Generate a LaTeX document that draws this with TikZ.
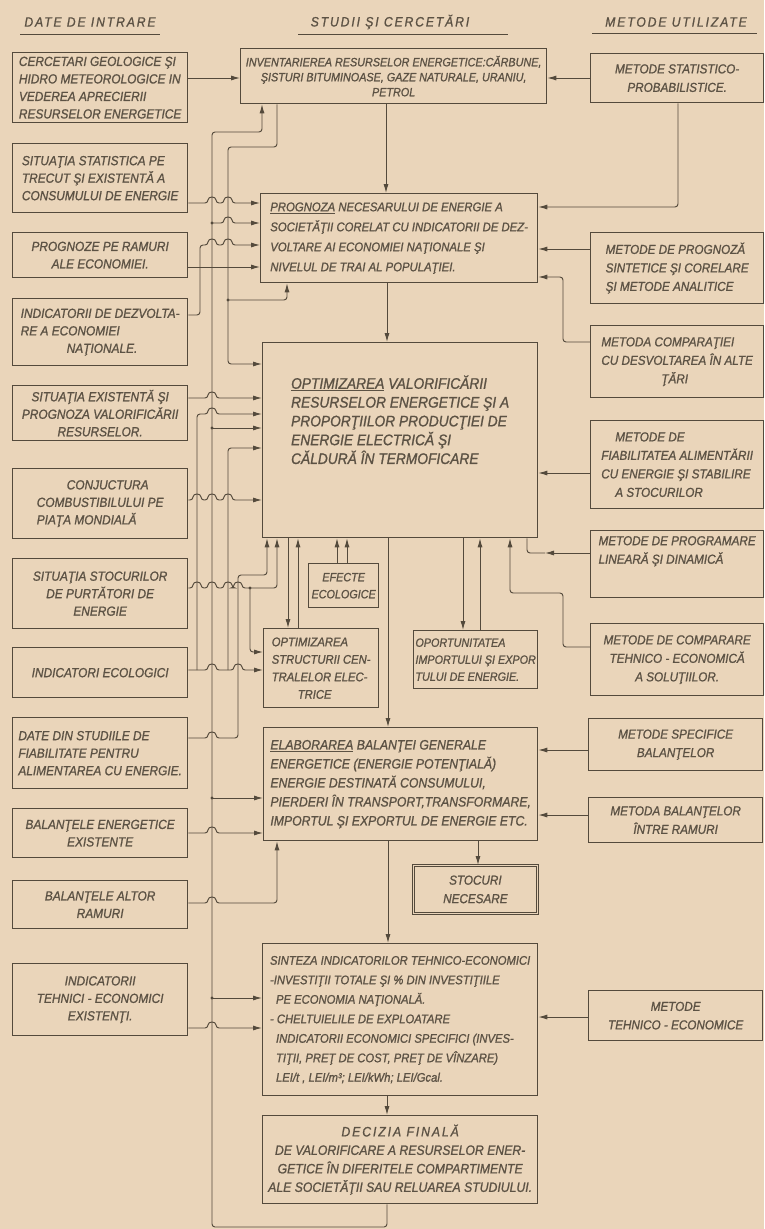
\documentclass[tikz,border=0pt]{standalone}
\usepackage{fontspec}
\setmainfont{Liberation Sans}
\newfontfamily\df[FakeStretch=0.9,FakeBold=1.1]{Liberation Sans}
\newfontfamily\dfh[FakeStretch=0.9,FakeBold=1.1,LetterSpace=14]{Liberation Sans}
\usetikzlibrary{arrows.meta}
\definecolor{paper}{RGB}{234,213,186}
\definecolor{ink}{RGB}{84,74,60}
\definecolor{txt}{RGB}{92,82,68}
\newcommand\hp[2]{-- (#1-4,#2) .. controls (#1-4,#2-7) and (#1+4,#2-7) .. (#1+4,#2)}
\begin{document}
\begin{tikzpicture}[x=1pt,y=-1pt,
  bx/.style={draw=ink,line width=1.3pt,inner xsep=3pt,inner ysep=0pt,text=txt,anchor=north west},
  lf/.style={font=\df\itshape\fontsize{13.2}{17.5}\selectfont},
  cf/.style={font=\df\itshape\fontsize{12.6}{20}\selectfont},
  rf/.style={font=\df\itshape\fontsize{13}{18.5}\selectfont},
  sf/.style={font=\df\itshape\fontsize{12}{17}\selectfont},
  hd/.style={text=txt,font=\dfh\itshape\fontsize{13.5}{15}\selectfont},
  con/.style={draw=ink,line width=0.95pt,rounded corners=3pt},
  arr/.style={-{Latex[length=9pt,width=5pt]}},
  dot/.style={fill=ink}]
\fill[paper] (0,0) rectangle (764,1229);
\useasboundingbox (0,0) rectangle (764,1229);

% headers
\node[hd] (h1) at (90,22) {DATE DE INTRARE};
\node[hd] (h2) at (390,22) {STUDII ŞI CERCETĂRI};
\node[hd] (h3) at (676,22) {METODE UTILIZATE};
\draw[ink,line width=0.9pt] (20,34) -- (160,34);
\draw[ink,line width=0.9pt] (298,34) -- (508,34);
\draw[ink,line width=0.9pt] (592,33) -- (757,33);

% left column
\node[bx,lf,align=left,minimum width=175pt,minimum height=70pt] (l1) at (12,52) {CERCETARI GEOLOGICE ŞI\\HIDRO METEOROLOGICE IN\\VEDEREA APRECIERII\\RESURSELOR ENERGETICE};
\node[bx,lf,align=left,minimum width=175pt,minimum height=69pt] (l2) at (12,143) {SITUAŢIA STATISTICA PE\\TRECUT ŞI EXISTENTĂ A\\CONSUMULUI DE ENERGIE};
\node[bx,lf,align=center,minimum width=175pt,minimum height=45pt] (l3) at (12,232) {PROGNOZE PE RAMURI\\ALE ECONOMIEI.};
\node[bx,lf,align=left,minimum width=175pt,minimum height=67pt] (l4) at (12,298) {INDICATORII DE DEZVOLTA-\\RE A ECONOMIEI\\\hspace*{46pt}NAŢIONALE.};
\node[bx,lf,align=center,minimum width=175pt,minimum height=55pt] (l5) at (12,385) {SITUAŢIA EXISTENTĂ ŞI\\PROGNOZA VALORIFICĂRII\\RESURSELOR.};
\node[bx,lf,align=left,minimum width=175pt,minimum height=70pt] (l6) at (12,468) {\hspace*{30pt}CONJUCTURA\\COMBUSTIBILULUI PE\\PIAŢA MONDIALĂ};
\node[bx,lf,align=center,minimum width=175pt,minimum height=70pt] (l7) at (12,558) {SITUAŢIA STOCURILOR\\DE PURTĂTORI DE\\ENERGIE};
\node[bx,lf,align=left,minimum width=175pt,minimum height=50pt] (l8) at (12,647) {INDICATORI ECOLOGICI};
\node[bx,lf,align=left,minimum width=175pt,minimum height=71pt] (l9) at (12,717) {DATE DIN STUDIILE DE\\FIABILITATE PENTRU\\ALIMENTAREA CU ENERGIE.};
\node[bx,lf,align=center,minimum width=175pt,minimum height=49pt] (l10) at (12,808) {BALANŢELE ENERGETICE\\EXISTENTE};
\node[bx,lf,align=center,minimum width=175pt,minimum height=48pt] (l11) at (12,880) {BALANŢELE ALTOR\\RAMURI};
\node[bx,lf,align=center,minimum width=175pt,minimum height=72pt] (l12) at (12,963) {INDICATORII\\TEHNICI - ECONOMICI\\EXISTENŢI.};

% central column
\node[bx,font=\df\itshape\fontsize{12}{15}\selectfont,align=center,minimum width=306pt,minimum height=55pt] (c1) at (240,48) {INVENTARIEREA RESURSELOR ENERGETICE:CĂRBUNE,\\ŞISTURI BITUMINOASE, GAZE NATURALE, URANIU,\\PETROL};
\node[bx,cf,align=left,minimum width=277pt,minimum height=89pt] (c2) at (260,193) {\underline{PROGNOZA} NECESARULUI DE ENERGIE A\\SOCIETĂŢII CORELAT CU INDICATORII DE DEZ-\\VOLTARE AI ECONOMIEI NAŢIONALE ŞI\\NIVELUL DE TRAI AL POPULAŢIEI.};
\node[bx,font=\df\itshape\fontsize{15.3}{18.8}\selectfont,align=left,minimum width=275pt,minimum height=195pt] (c3) at (262,342) {\underline{OPTIMIZAREA} VALORIFICĂRII\\RESURSELOR ENERGETICE ŞI A\\PROPORŢIILOR PRODUCŢIEI DE\\ENERGIE ELECTRICĂ ŞI\\CĂLDURĂ ÎN TERMOFICARE\\[22pt]};
\node[bx,sf,align=center,minimum width=70pt,minimum height=44pt,inner xsep=1pt] (c4) at (308,563) {EFECTE\\ECOLOGICE};
\node[bx,font=\df\itshape\fontsize{12.5}{17.5}\selectfont,align=left,minimum width=115pt,minimum height=79pt] (c5) at (263,628) {OPTIMIZAREA\\STRUCTURII CEN-\\TRALELOR ELEC-\\\hspace*{26pt}TRICE};
\node[bx,sf,align=left,minimum width=124pt,minimum height=58pt,inner xsep=1pt] (c6) at (413,630) {OPORTUNITATEA\\IMPORTULUI ŞI EXPOR\\TULUI DE ENERGIE.};
\node[bx,font=\df\itshape\fontsize{13.6}{19}\selectfont,align=left,minimum width=274pt,minimum height=113pt] (c7) at (263,727) {\underline{ELABORAREA} BALANŢEI GENERALE\\ENERGETICE (ENERGIE POTENŢIALĂ)\\ENERGIE DESTINATĂ CONSUMULUI,\\PIERDERI ÎN TRANSPORT,TRANSFORMARE,\\IMPORTUL ŞI EXPORTUL DE ENERGIE ETC.};
\node[bx,rf,align=center,minimum width=124pt,minimum height=48pt,line width=0.8pt,double=paper,double distance=1.6pt] (c8) at (413,865) {STOCURI\\NECESARE};
\node[bx,font=\df\itshape\fontsize{12.5}{19.5}\selectfont,align=left,minimum width=275pt,minimum height=152pt] (c9) at (262,943) {SINTEZA INDICATORILOR TEHNICO-ECONOMICI\\-INVESTIŢII TOTALE ŞI \% DIN INVESTIŢIILE\\\hspace*{6pt}PE ECONOMIA NAŢIONALĂ.\\- CHELTUIELILE DE EXPLOATARE\\\hspace*{6pt}INDICATORII ECONOMICI SPECIFICI (INVES-\\\hspace*{6pt}TIŢII, PREŢ DE COST, PREŢ DE VÎNZARE)\\\hspace*{6pt}LEI/t , LEI/m³; LEI/kWh; LEI/Gcal.};
\node[bx,font=\df\itshape\fontsize{13.6}{18.5}\selectfont,align=center,minimum width=275pt,minimum height=88pt] (c10) at (262,1115) {{\dfh DECIZIA FINALĂ}\\DE VALORIFICARE A RESURSELOR ENER-\\GETICE ÎN DIFERITELE COMPARTIMENTE\\ALE SOCIETĂŢII SAU RELUAREA STUDIULUI.};

% right column
\node[bx,rf,align=center,minimum width=173pt,minimum height=49pt] (r1) at (590,53) {METODE STATISTICO-\\PROBABILISTICE.};
\node[bx,rf,align=left,minimum width=173pt,minimum height=71pt] (r2) at (590,232) {METODE DE PROGNOZĂ\\SINTETICE ŞI CORELARE\\ŞI METODE ANALITICE};
\node[bx,rf,align=left,minimum width=173pt,minimum height=72pt] (r3) at (590,325) {METODA COMPARAŢIEI\\CU DESVOLTAREA ÎN ALTE\\\hspace*{60pt}ŢĂRI};
\node[bx,rf,align=left,minimum width=173pt,minimum height=88pt] (r4) at (590,420) {\hspace*{14pt}METODE DE\\FIABILITATEA ALIMENTĂRII\\CU ENERGIE ŞI STABILIRE\\\hspace*{14pt}A STOCURILOR};
\node[bx,rf,align=left,minimum width=173pt,minimum height=67pt] (r5) at (590,530) {METODE DE PROGRAMARE\\LINEARĂ ŞI DINAMICĂ\\[10pt]};
\node[bx,rf,align=center,minimum width=173pt,minimum height=72pt] (r6) at (590,623) {METODE DE COMPARARE\\TEHNICO - ECONOMICĂ\\A SOLUŢIILOR.};
\node[bx,rf,align=center,minimum width=174pt,minimum height=52pt] (r7) at (588,718) {METODE SPECIFICE\\BALANŢELOR};
\node[bx,rf,align=center,minimum width=174pt,minimum height=45pt] (r8) at (588,797) {METODA BALANŢELOR\\ÎNTRE RAMURI};
\node[bx,rf,align=center,minimum width=174pt,minimum height=50pt] (r9) at (588,990) {METODE\\TEHNICO - ECONOMICE};

% right-side connectors
\draw[con,arr] (r1.west |- 0,78) -- (c1.east |- 0,78);
\draw[con,arr] (r1.south -| 678,0) -- (678,207) -- (c2.east |- 0,207);
\draw[con,arr] (r2.west |- 0,249) -- (c2.east |- 0,249);
\draw[con,arr] (r3.west |- 0,342) -- (563,342) -- (563,277) -- (c2.east |- 0,277);
\draw[con,arr] (r4.west |- 0,473) -- (c3.east |- 0,473);
\draw[con,arr] (r5.west |- 0,553) -- (545,553);
\draw[con] (545,553) -- (527,553) -- (c3.south -| 527,0);
\draw[con,arr] (r6.west |- 0,647) -- (563,647) -- (563,593) -- (510,593) -- (c3.south -| 510,0);
\draw[con,arr] (r7.west |- 0,750) -- (c7.east |- 0,750);
\draw[con,arr] (r8.west |- 0,815) -- (c7.east |- 0,815);
\draw[con,arr] (r9.west |- 0,1017) -- (c9.east |- 0,1017);

% central connectors
\draw[con,arr] (c1.south -| 386,0) -- (c2.north -| 386,0);
\draw[con,arr] (c2.south -| 387,0) -- (c3.north -| 387,0);
\draw[con,arr] (c3.south -| 388,0) -- (c7.north -| 388,0);
\draw[con,arr] (c3.south -| 463,0) -- (c6.north -| 463,0);
\draw[con,arr] (c6.north -| 480,0) -- (c3.south -| 480,0);
\draw[con,arr] (c4.north -| 337,0) -- (c3.south -| 337,0);
\draw[con,arr] (c4.north -| 347,0) -- (c3.south -| 347,0);
\draw[con,arr] (c3.south -| 288,0) -- (c5.north -| 288,0);
\draw[con,arr] (c5.north -| 298,0) -- (c3.south -| 298,0);
\draw[con,arr] (c7.south -| 478,0) -- (c8.north -| 478,0);
\draw[con,arr] (c7.south -| 388,0) -- (c9.north -| 388,0);
\draw[con,arr] (c9.south -| 387,0) -- (c10.north -| 387,0);

% feedback trunk
\draw[con,arr] (c10.south -| 387,0) -- (387,1227) -- (212,1227) -- (212,132) -- (262,132) -- (c1.south -| 262,0);
\draw[con,arr] (212,223) \hp{228}{223} -- (c2.west |- 0,223);
\draw[con,arr] (212,428) -- (c3.west |- 0,428);
\draw[con,arr] (212,798) -- (c7.west |- 0,798);
\draw[con,arr] (212,998) -- (c9.west |- 0,998);
\foreach \yy in {223,428,798,998} \fill[dot] (212,\yy) circle (1.6pt);

% inventory distribution
\draw[con,arr] (c1.south -| 277,0) -- (277,147) -- (228,147) -- (228,364) -- (c3.west |- 0,364);
\draw[con,arr] (228,300) -- (287,300) -- (c2.south -| 287,0);
\fill[dot] (228,300) circle (1.6pt);

% left inputs
\draw[con,arr] (l1.east |- 0,78) -- (c1.west |- 0,78);
\draw[con,arr] (l2.east |- 0,203) \hp{212}{203} \hp{228}{203} -- (c2.west |- 0,203);
\draw[con,arr] (l4.east |- 0,315) -- (200,315) -- (200,245) \hp{212}{245} \hp{228}{245} -- (c2.west |- 0,245);
\draw[con,arr] (l3.east |- 0,267) -- (c2.west |- 0,267);
\draw[con,arr] (l5.east |- 0,398) \hp{212}{398} -- (c3.west |- 0,398);
\draw[con,arr] (l6.east |- 0,500) \hp{197}{500} \hp{212}{500} \hp{228}{500} -- (c3.west |- 0,500);
\draw[con,arr] (l7.east |- 0,588) \hp{197}{588} \hp{212}{588} \hp{228}{588} \hp{238}{588} -- (277,588) -- (c3.south -| 277,0);
\draw[con,arr] (250,588) -- (250,652) -- (c5.west |- 0,652);
\fill[dot] (250,588) circle (1.6pt);
\draw[con,arr] (l8.east |- 0,670) \hp{212}{670} \hp{238}{670} -- (c5.west |- 0,670);
\draw[con,arr] (197,670) -- (197,414) \hp{212}{414} -- (c3.west |- 0,414);
\draw[con,arr] (228,670) -- (228,448) -- (c3.west |- 0,448);
\draw[con,arr] (l9.east |- 0,738) \hp{212}{738} -- (238,738) -- (238,575) -- (267,575) -- (c3.south -| 267,0);
\draw[con,arr] (l10.east |- 0,833) \hp{212}{833} -- (c7.west |- 0,833);
\draw[con,arr] (l11.east |- 0,903) \hp{212}{903} -- (277,903) -- (c7.south -| 277,0);
\draw[con,arr] (l12.east |- 0,1028) \hp{212}{1028} -- (c9.west |- 0,1028);
\end{tikzpicture}
\end{document}
